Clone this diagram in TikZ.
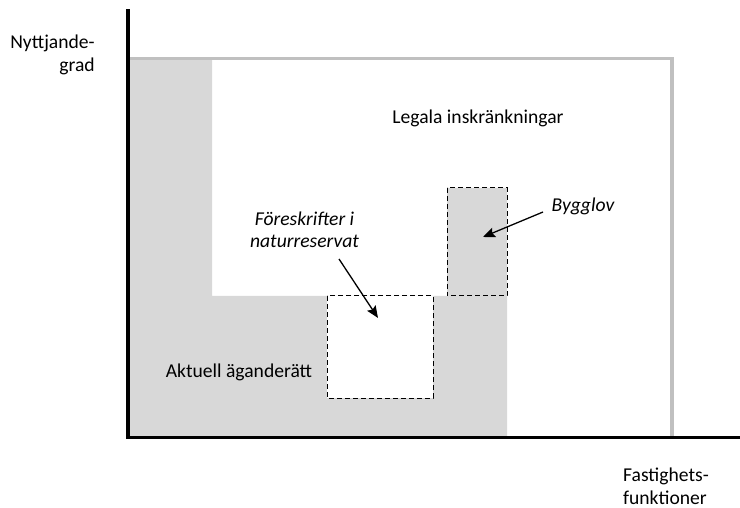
\documentclass[tikz,border=0pt]{standalone}
\usepackage{fontspec}
\setmainfont{Carlito}
\usetikzlibrary{arrows.meta}
\definecolor{areafill}{HTML}{D8D8D8}
\definecolor{limitline}{HTML}{C0C0C0}
\tikzset{
  axisline/.style={line width=3.5pt, black},
  limitbox/.style={line width=3.5pt, limitline},
  dashbox/.style={line width=1pt, dash pattern=on 5pt off 3pt, black},
  lbl/.style={font=\fontsize{19.6}{23}\selectfont, inner sep=0pt},
  itlbl/.style={lbl, font=\fontsize{19.6}{22.5}\selectfont\itshape},
  pointer/.style={line width=1.3pt, -{Stealth[length=12pt,width=10pt,inset=2pt]}}
}
\begin{document}
\begin{tikzpicture}[x=1pt,y=-1pt]
\useasboundingbox (0,0) rectangle (740,508);
% current ownership area (grey L-shape with building-permit step)
\fill[areafill] (128,58.5) -- (212,58.5) -- (212,296) -- (447,296) -- (447,188)
  -- (507,188) -- (507,437.5) -- (128,437.5) -- cycle;
% nature reserve regulations cut out of the area
\fill[white] (327,296) rectangle (433,398);
% legal limits
\draw[limitbox] (128,58.5) -- (672,58.5) -- (672,437.5);
% dashed boxes
\draw[dashbox] (327,296) rectangle (433,398);
\draw[dashbox] (447,188) rectangle (507,296);
% axes
\draw[axisline] (128,9.5) -- (128,437.5) -- (740,437.5);
% labels
\node[lbl, align=right, anchor=center] (yl) at (52.5,55) {Nyttjande-\\grad};
\node[lbl, align=left, anchor=center] (xl) at (666,486) {Fastighets-\\funktioner};
\node[lbl, anchor=base] (legal) at (478,124) {Legala inskränkningar};
\node[lbl, anchor=base] (own) at (239,377) {Aktuell äganderätt};
\node[itlbl, align=center, anchor=center] (reg) at (304.5,230) {Föreskrifter i\\naturreservat};
\node[itlbl, anchor=base] (bygg) at (583,212) {Bygglov};
% pointers
\coordinate (regfrom) at (339,259);
\coordinate (regto) at (378,318);
\coordinate (byggfrom) at (543,212);
\coordinate (byggto) at (483,237);
\draw[pointer] (regfrom) -- (regto);
\draw[pointer] (byggfrom) -- (byggto);
\end{tikzpicture}
\end{document}
